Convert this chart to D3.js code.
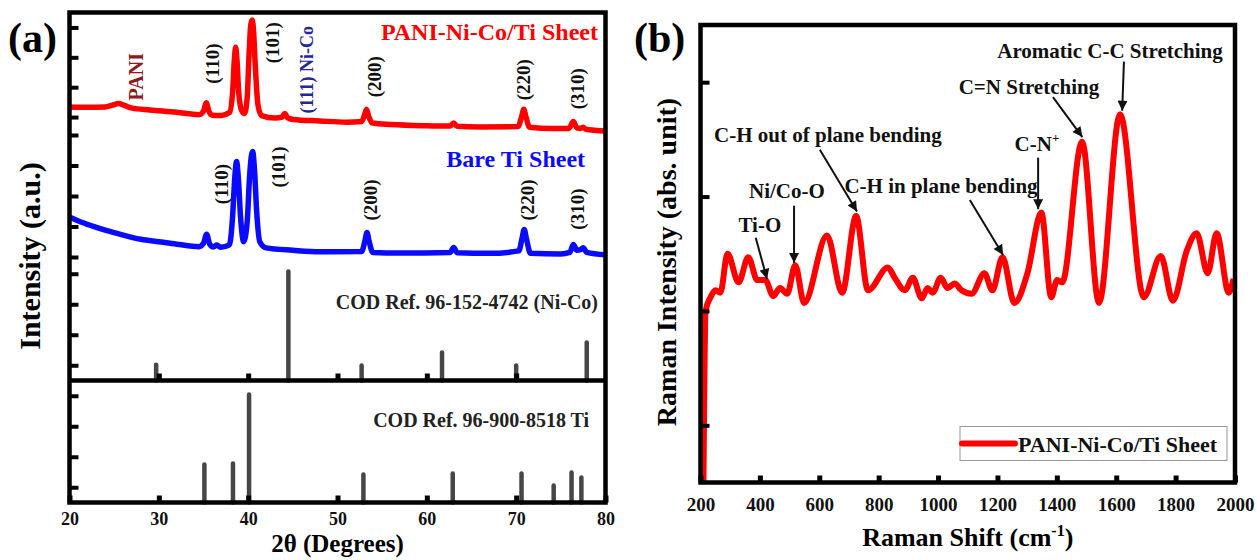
<!DOCTYPE html>
<html>
<head>
<meta charset="utf-8">
<script src="https://cdn.jsdelivr.net/npm/d3@7"></script>
<style>
  body { margin: 0; background: #fff; }
  svg text { font-family: "Liberation Serif", "Times New Roman", serif; font-weight: bold; }
</style>
</head>
<body>
<div id="app"></div>
<script>
// ---------------- data ----------------
// (a) XRD
const xrdTickValues = [20, 30, 40, 50, 60, 70, 80];

const paniTheta = [20, 22, 24, 24.8, 25.5, 26.2, 27, 29, 32, 34.5, 35.0, 35.3, 35.6, 36.0, 37.0, 37.9,
  38.25, 38.45, 38.6, 38.75, 38.95, 39.3, 39.6, 39.9, 40.1, 40.3, 40.45, 40.6, 40.8, 41.1, 41.5,
  43.0, 43.8, 44.1, 44.4, 45, 48, 51, 52.7, 53.0, 53.25, 53.5, 53.9, 56, 60, 62.6, 63.0, 63.4, 66,
  70.2, 70.6, 70.85, 71.1, 71.5, 74, 75.9, 76.4, 76.8, 77.2, 77.5, 77.8, 80];
const paniInt = [0.84, 0.83, 0.84, 0.9, 0.95, 0.88, 0.8, 0.74, 0.66, 0.58, 0.7, 0.98, 0.7, 0.56, 0.55, 0.65,
  1.3, 2.4, 2.84, 2.4, 1.3, 0.7, 0.62, 1.2, 2.6, 3.6, 3.75, 3.4, 2.2, 0.9, 0.55,
  0.47, 0.5, 0.62, 0.48, 0.42, 0.37, 0.33, 0.35, 0.55, 0.76, 0.52, 0.3, 0.25, 0.21, 0.2, 0.3, 0.19, 0.17,
  0.18, 0.5, 0.76, 0.5, 0.16, 0.12, 0.12, 0.35, 0.14, 0.12, 0.16, 0.09, 0.03];

const bareTheta = [20, 21, 22.5, 24, 26, 28, 30, 32, 34.5, 35.0, 35.35, 35.7, 36.1, 36.5, 36.9, 37.9,
  38.25, 38.5, 38.7, 38.9, 39.15, 39.5, 39.9, 40.15, 40.35, 40.5, 40.7, 40.95, 41.3, 42, 45, 48,
  52.7, 53.05, 53.3, 53.55, 53.95, 57, 62.6, 63.0, 63.4, 67, 70.3, 70.65, 70.9, 71.15, 71.6, 75,
  76.0, 76.4, 76.8, 77.2, 77.5, 77.9, 80];
const bareInt = [1.31, 1.18, 1.02, 0.88, 0.72, 0.58, 0.5, 0.42, 0.34, 0.45, 0.75, 0.42, 0.33, 0.39, 0.32, 0.4,
  1.3, 2.6, 3.13, 2.6, 1.3, 0.5, 1.2, 2.6, 3.3, 3.46, 2.9, 1.5, 0.5, 0.3, 0.22, 0.17,
  0.18, 0.5, 0.8, 0.5, 0.15, 0.13, 0.15, 0.31, 0.14, 0.12, 0.2, 0.6, 0.9, 0.6, 0.12, 0.1,
  0.15, 0.41, 0.22, 0.24, 0.3, 0.15, 0.07];

const nicoRefTheta = [29.7, 44.5, 52.7, 61.7, 70.0, 77.9];
const nicoRefInt = [0.52, 3.57, 0.49, 0.92, 0.49, 1.25];
const tiRefTheta = [35.1, 38.3, 40.1, 52.9, 62.9, 70.6, 74.2, 76.2, 77.3];
const tiRefInt = [1.25, 1.28, 3.54, 0.92, 0.95, 0.95, 0.56, 0.98, 0.82];

// peak labels: [text, 2theta, intensity]
const paniPeakLabels = [["(110)", 36.06, 2.29], ["(101)", 42.67, 2.99], ["(200)", 54.09, 1.85],
  ["(220)", 70.77, 1.75], ["(310)", 76.81, 1.45]];
const barePeakLabels = [["(110)", 36.96, 2.39], ["(101)", 43.34, 2.95], ["(200)", 53.64, 1.87],
  ["(220)", 71.32, 1.87], ["(310)", 76.92, 1.57]];

// (b) Raman
const ramanTickValues = [200, 400, 600, 800, 1000, 1200, 1400, 1600, 1800, 2000];
const ramanShift = [210, 217, 234, 250, 267, 291, 328, 361, 391, 418, 445, 468, 492, 519, 549, 626, 677, 724,
  764, 831, 854, 888, 915, 945, 965, 982, 1009, 1032, 1056, 1079, 1113, 1156, 1183, 1217, 1257, 1301,
  1348, 1381, 1401, 1418, 1485, 1542, 1613, 1693, 1750, 1791, 1838, 1871, 1908, 1938, 1979, 1995];
const ramanInt = [0, 1.5, 1.62, 1.68, 1.66, 2.0, 1.75, 1.97, 1.77, 1.77, 1.63, 1.70, 1.65, 1.90, 1.57, 2.16, 1.66, 2.33,
  1.68, 1.88, 1.79, 1.68, 1.79, 1.61, 1.70, 1.66, 1.79, 1.70, 1.74, 1.68, 1.65, 1.83, 1.68, 1.97, 1.57, 1.83,
  2.36, 1.62, 1.77, 1.75, 2.98, 1.57, 3.22, 1.62, 1.98, 1.59, 2.03, 2.18, 1.83, 2.18, 1.66, 1.78];

// annotations: [text, textX, textY, arrowFromX, arrowFromY, arrowToX, arrowToY]
const ramanNotes = [
  ["Ti-O", 400, 2.19, 386, 2.14, 424, 1.78],
  ["Ni/Co-O", 491, 2.49, 515, 2.42, 515, 1.92],
  ["C-H out of plane bending", 629, 2.98, 602, 2.91, 727, 2.37],
  ["C-H in plane bending", 1010, 2.53, 1107, 2.47, 1219, 1.99],
  ["C-N", 1333, 2.90, 1337, 2.84, 1337, 2.39],
  ["C=N Stretching", 1306, 3.40, 1387, 3.37, 1486, 3.02],
  ["Aromatic C-C Stretching", 1579, 3.71, 1626, 3.68, 1620, 3.25]
];

// ---------------- svg ----------------
const W = 1257, H = 560;
let svg = d3.select("#app").append("svg")
    .attr("width", W)
    .attr("height", H)
    .style("background", "#fff");

svg.append("defs").append("marker")
    .attr("id", "arrowhead")
    .attr("viewBox", "0 0 10 10")
    .attr("refX", 10).attr("refY", 5)
    .attr("markerWidth", 12).attr("markerHeight", 10)
    .attr("markerUnits", "userSpaceOnUse")
    .attr("orient", "auto")
  .append("path")
    .attr("d", "M0,0 L10,5 L0,10 z")
    .attr("fill", "#111");

// ================= panel (a) =================
const a = { left: 69.5, right: 605.5, top: 12.5, bottom: 502.5, split: 380.5 };
let gA = svg.append("g").attr("class", "panel-a");

let x = d3.scaleLinear().domain([20, 80]).range([a.left, a.right]);

// stacked layers, each with its own y scale
let yPani = d3.scaleLinear().domain([0, 4]).range([132, a.top]);
let yBare = d3.scaleLinear().domain([0, 4]).range([257, 135]);
let yNiCo = d3.scaleLinear().domain([0, 4]).range([a.split, 258.5]);
let yTi = d3.scaleLinear().domain([0, 4]).range([a.bottom, a.split]);

// curves
let lineA = (ys) => d3.line()
    .x(d => x(d[0]))
    .y(d => ys(d[1]))
    .curve(d3.curveMonotoneX);

gA.append("path")
    .datum(d3.zip(bareTheta, bareInt))
    .attr("d", lineA(yBare))
    .attr("fill", "none")
    .attr("stroke", "#0a0aff")
    .attr("stroke-width", 5.5)
    .attr("stroke-linejoin", "round");

gA.append("path")
    .datum(d3.zip(paniTheta, paniInt))
    .attr("d", lineA(yPani))
    .attr("fill", "none")
    .attr("stroke", "#ff0000")
    .attr("stroke-width", 5.5)
    .attr("stroke-linejoin", "round");

// reference sticks
function sticks(thetas, vals, ys) {
    gA.append("g").selectAll("line")
        .data(d3.zip(thetas, vals))
        .enter()
        .append("line")
            .attr("x1", d => x(d[0]))
            .attr("x2", d => x(d[0]))
            .attr("y1", ys(0))
            .attr("y2", d => ys(d[1]))
            .attr("stroke", "#464646")
            .attr("stroke-width", 4.5)
            .attr("stroke-linecap", "round");
}
sticks(nicoRefTheta, nicoRefInt, yNiCo);
sticks(tiRefTheta, tiRefInt, yTi);

// x ticks (inward) on bottom and on the split line
gA.append("g")
    .attr("transform", "translate(0," + a.bottom + ")")
    .call(d3.axisBottom(x).tickValues(xrdTickValues).tickSize(-7).tickPadding(10).tickFormat(d3.format("d")))
    .call(g => g.select(".domain").remove())
    .call(g => g.selectAll("line").attr("stroke-width", 5))
    .call(g => g.selectAll("text").attr("font-size", 18).attr("fill", "#111")
        .attr("font-family", "Liberation Serif"));

gA.append("g")
    .attr("transform", "translate(0," + a.split + ")")
    .call(d3.axisBottom(x).tickValues([30, 40, 50, 60, 70]).tickSize(-7).tickFormat(""))
    .call(g => g.select(".domain").remove())
    .call(g => g.selectAll("line").attr("stroke-width", 5));

// y ticks (inward) for each layer
[[yPani, [0.5, 1.5, 2.5, 3.5]], [yBare, [0, 1, 2, 3, 4]], [yNiCo, [0.5, 1.5, 2.5, 3.5]], [yTi, [0.5, 1.5, 2.5, 3.5]]]
    .forEach(([ys, tv]) => {
        gA.append("g")
            .attr("transform", "translate(" + a.left + ",0)")
            .call(d3.axisLeft(ys).tickValues(tv).tickSize(-9).tickFormat(""))
            .call(g => g.select(".domain").remove())
            .call(g => g.selectAll("line").attr("stroke-width", 4));
    });

// frame + split line
gA.append("rect")
    .attr("x", a.left).attr("y", a.top)
    .attr("width", a.right - a.left).attr("height", a.bottom - a.top)
    .attr("fill", "none").attr("stroke", "#000").attr("stroke-width", 4.5);
gA.append("line")
    .attr("x1", a.left).attr("x2", a.right)
    .attr("y1", a.split).attr("y2", a.split)
    .attr("stroke", "#000").attr("stroke-width", 4.5);

// rotated peak labels
function vlabel(txt, tx, ty, size, color) {
    gA.append("text")
        .attr("transform", "translate(" + tx + "," + ty + ") rotate(-90)")
        .attr("text-anchor", "middle")
        .attr("dominant-baseline", "central")
        .attr("font-size", size)
        .attr("fill", color)
        .text(txt);
}
paniPeakLabels.forEach(d => vlabel(d[0], x(d[1]), yPani(d[2]), 19, "#111"));
barePeakLabels.forEach(d => vlabel(d[0], x(d[1]), yBare(d[2]), 19, "#111"));
vlabel("PANI", x(27.44), yPani(1.85), 20, "#8b1c1c");
vlabel("(111) Ni-Co", x(46.59), yPani(2.08), 18, "#26269a");

// series / reference titles
function rlabel(txt, tx, ty, size, color) {
    gA.append("text")
        .attr("x", tx).attr("y", ty)
        .attr("text-anchor", "end")
        .attr("font-size", size)
        .attr("fill", color)
        .text(txt);
}
rlabel("PANI-Ni-Co/Ti Sheet", x(79.16), yPani(3.09), 24, "#ff0000");
rlabel("Bare Ti Sheet", x(77.71), yBare(2.95), 24, "#0a0aff");
rlabel("COD Ref. 96-152-4742 (Ni-Co)", x(79.16), yNiCo(2.33), 20, "#222");
rlabel("COD Ref. 96-900-8518 Ti", x(78.16), yTi(2.46), 20, "#222");

// axis titles
gA.append("text")
    .attr("x", (a.left + a.right) / 2).attr("y", 552)
    .attr("text-anchor", "middle")
    .attr("font-size", 25)
    .text("2θ (Degrees)");
gA.append("text")
    .attr("transform", "translate(29," + 256 + ") rotate(-90)")
    .attr("text-anchor", "middle")
    .attr("dominant-baseline", "central")
    .attr("font-size", 30)
    .text("Intensity (a.u.)");
gA.append("text")
    .attr("x", 8).attr("y", 52)
    .attr("font-size", 42)
    .text("(a)");

// ================= panel (b) =================
const b = { left: 700.5, right: 1235, top: 25, bottom: 482.5 };
let gB = svg.append("g").attr("class", "panel-b");

let xr = d3.scaleLinear().domain([200, 2000]).range([b.left, b.right]);
let yr = d3.scaleLinear().domain([0, 4]).range([b.bottom, b.top]);

gB.append("path")
    .datum(d3.zip(ramanShift, ramanInt))
    .attr("d", d3.line()
        .x(d => xr(d[0]))
        .y(d => yr(d[1]))
        .curve(d3.curveMonotoneX))
    .attr("fill", "none")
    .attr("stroke", "#ff0000")
    .attr("stroke-width", 6)
    .attr("stroke-linejoin", "round");

gB.append("g")
    .attr("transform", "translate(0," + b.bottom + ")")
    .call(d3.axisBottom(xr).tickValues(ramanTickValues).tickSize(-7).tickPadding(15).tickFormat(d3.format("d")))
    .call(g => g.select(".domain").remove())
    .call(g => g.selectAll("line").attr("stroke-width", 5))
    .call(g => g.selectAll("text").attr("font-size", 19).attr("fill", "#111")
        .attr("font-family", "Liberation Serif"));

gB.append("g")
    .attr("transform", "translate(" + b.left + ",0)")
    .call(d3.axisLeft(yr).tickValues([0.5, 1.5, 2.5, 3.5]).tickSize(-9).tickFormat(""))
    .call(g => g.select(".domain").remove())
    .call(g => g.selectAll("line").attr("stroke-width", 4));

gB.append("rect")
    .attr("x", b.left).attr("y", b.top)
    .attr("width", b.right - b.left).attr("height", b.bottom - b.top)
    .attr("fill", "none").attr("stroke", "#000").attr("stroke-width", 4.5);

// annotations with arrows
ramanNotes.forEach(d => {
    let t = gB.append("text")
        .attr("x", xr(d[1])).attr("y", yr(d[2]))
        .attr("text-anchor", "middle")
        .attr("font-size", 21)
        .attr("fill", "#111")
        .text(d[0]);
    if (d[0] === "C-N") {
        t.append("tspan").attr("font-size", 13).attr("dy", -9).text("+");
    }
    gB.append("line")
        .attr("x1", xr(d[3])).attr("y1", yr(d[4]))
        .attr("x2", xr(d[5])).attr("y2", yr(d[6]))
        .attr("stroke", "#111")
        .attr("stroke-width", 2)
        .attr("marker-end", "url(#arrowhead)");
});

// legend
let lg = gB.append("g").attr("transform", "translate(" + (b.right - 275) + "," + (b.bottom - 56) + ")");
lg.append("rect")
    .attr("width", 267).attr("height", 34)
    .attr("fill", "#fff").attr("stroke", "#999").attr("stroke-width", 1);
lg.append("line")
    .attr("x1", 2).attr("x2", 55).attr("y1", 17).attr("y2", 17)
    .attr("stroke", "#ff0000").attr("stroke-width", 6).attr("stroke-linecap", "round");
lg.append("text")
    .attr("x", 58).attr("y", 25)
    .attr("font-size", 22)
    .attr("fill", "#111")
    .text("PANI-Ni-Co/Ti Sheet");

// axis titles
let xt = gB.append("text")
    .attr("x", (b.left + b.right) / 2).attr("y", 546)
    .attr("text-anchor", "middle")
    .attr("font-size", 26)
    .text("Raman Shift (cm");
xt.append("tspan").attr("font-size", 16).attr("dy", -10).text("-1");
xt.append("tspan").attr("dy", 10).text(")");

gB.append("text")
    .attr("transform", "translate(666," + 262 + ") rotate(-90)")
    .attr("text-anchor", "middle")
    .attr("dominant-baseline", "central")
    .attr("font-size", 28)
    .text("Raman Intensity (abs. unit)");
gB.append("text")
    .attr("x", 634).attr("y", 52)
    .attr("font-size", 42)
    .text("(b)");
</script>
</body>
</html>
